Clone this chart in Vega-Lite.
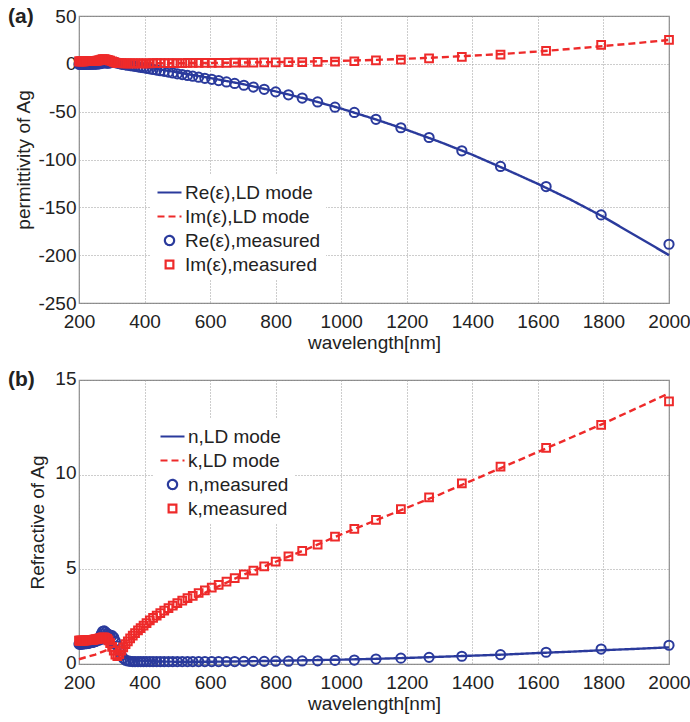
{
  "$schema": "https://vega.github.io/schema/vega-lite/v6.json",
  "padding": {"left": 7, "top": 5, "right": 0, "bottom": 2},
  "background": "white",
  "datasets": {
    "meas": [
      {"wl": 2000, "re": -188.6, "im": 25.0, "n": 0.99, "k": 13.87},
      {"wl": 1793, "re": -157.9, "im": 19.8, "n": 0.79, "k": 12.63},
      {"wl": 1625, "re": -128.3, "im": 13.6, "n": 0.62, "k": 11.41},
      {"wl": 1486, "re": -107.3, "im": 9.7, "n": 0.49, "k": 10.42},
      {"wl": 1368, "re": -90.9, "im": 7.2, "n": 0.41, "k": 9.54},
      {"wl": 1268, "re": -77.0, "im": 5.6, "n": 0.35, "k": 8.80},
      {"wl": 1182, "re": -66.8, "im": 4.3, "n": 0.31, "k": 8.18},
      {"wl": 1106, "re": -58.0, "im": 3.5, "n": 0.26, "k": 7.61},
      {"wl": 1040, "re": -50.8, "im": 2.7, "n": 0.21, "k": 7.14},
      {"wl": 981, "re": -45.3, "im": 2.3, "n": 0.19, "k": 6.73},
      {"wl": 928, "re": -39.8, "im": 2.0, "n": 0.17, "k": 6.31},
      {"wl": 881, "re": -35.8, "im": 1.8, "n": 0.16, "k": 5.98},
      {"wl": 839, "re": -32.4, "im": 1.7, "n": 0.15, "k": 5.69},
      {"wl": 800, "re": -29.3, "im": 1.6, "n": 0.15, "k": 5.41},
      {"wl": 765, "re": -26.6, "im": 1.45, "n": 0.14, "k": 5.16},
      {"wl": 732, "re": -24.3, "im": 1.35, "n": 0.14, "k": 4.93},
      {"wl": 703, "re": -22.4, "im": 1.3, "n": 0.14, "k": 4.73},
      {"wl": 675, "re": -20.5, "im": 1.2, "n": 0.13, "k": 4.53},
      {"wl": 650, "re": -18.9, "im": 1.1, "n": 0.13, "k": 4.35},
      {"wl": 626, "re": -17.5, "im": 1.05, "n": 0.13, "k": 4.18},
      {"wl": 605, "re": -16.2, "im": 1.0, "n": 0.13, "k": 4.03},
      {"wl": 584, "re": -15.1, "im": 0.98, "n": 0.13, "k": 3.89},
      {"wl": 565, "re": -14.0, "im": 0.95, "n": 0.13, "k": 3.75},
      {"wl": 547, "re": -12.9, "im": 0.92, "n": 0.13, "k": 3.60},
      {"wl": 531, "re": -12.1, "im": 0.88, "n": 0.13, "k": 3.48},
      {"wl": 515, "re": -11.2, "im": 0.85, "n": 0.13, "k": 3.35},
      {"wl": 500, "re": -10.4, "im": 0.82, "n": 0.13, "k": 3.22},
      {"wl": 486, "re": -9.5, "im": 0.79, "n": 0.13, "k": 3.08},
      {"wl": 473, "re": -8.7, "im": 0.76, "n": 0.13, "k": 2.95},
      {"wl": 460, "re": -7.9, "im": 0.72, "n": 0.13, "k": 2.82},
      {"wl": 448, "re": -7.2, "im": 0.69, "n": 0.13, "k": 2.69},
      {"wl": 437, "re": -6.5, "im": 0.66, "n": 0.13, "k": 2.56},
      {"wl": 426, "re": -5.9, "im": 0.63, "n": 0.13, "k": 2.43},
      {"wl": 416, "re": -5.3, "im": 0.6, "n": 0.13, "k": 2.30},
      {"wl": 406, "re": -4.65, "im": 0.56, "n": 0.13, "k": 2.16},
      {"wl": 397, "re": -4.1, "im": 0.53, "n": 0.13, "k": 2.03},
      {"wl": 388, "re": -3.6, "im": 0.49, "n": 0.13, "k": 1.90},
      {"wl": 380, "re": -3.1, "im": 0.46, "n": 0.13, "k": 1.77},
      {"wl": 371, "re": -2.6, "im": 0.42, "n": 0.13, "k": 1.63},
      {"wl": 364, "re": -2.2, "im": 0.39, "n": 0.13, "k": 1.50},
      {"wl": 356, "re": -1.8, "im": 0.38, "n": 0.14, "k": 1.35},
      {"wl": 349, "re": -1.4, "im": 0.38, "n": 0.16, "k": 1.20},
      {"wl": 342, "re": -1.06, "im": 0.42, "n": 0.20, "k": 1.05},
      {"wl": 335, "re": -0.7, "im": 0.53, "n": 0.30, "k": 0.88},
      {"wl": 329, "re": -0.29, "im": 0.63, "n": 0.45, "k": 0.70},
      {"wl": 323, "re": 0.22, "im": 0.73, "n": 0.70, "k": 0.52},
      {"wl": 317, "re": 0.73, "im": 0.80, "n": 0.95, "k": 0.42},
      {"wl": 311, "re": 1.19, "im": 1.20, "n": 1.20, "k": 0.50},
      {"wl": 306, "re": 1.47, "im": 1.96, "n": 1.40, "k": 0.70},
      {"wl": 301, "re": 1.44, "im": 2.70, "n": 1.50, "k": 0.90},
      {"wl": 295, "re": 1.10, "im": 3.34, "n": 1.52, "k": 1.10},
      {"wl": 290, "re": 0.84, "im": 3.88, "n": 1.55, "k": 1.25},
      {"wl": 286, "re": 0.79, "im": 4.26, "n": 1.60, "k": 1.33},
      {"wl": 281, "re": 0.92, "im": 4.64, "n": 1.68, "k": 1.38},
      {"wl": 277, "re": 1.10, "im": 4.90, "n": 1.75, "k": 1.40},
      {"wl": 272, "re": 1.00, "im": 4.82, "n": 1.72, "k": 1.40},
      {"wl": 268, "re": 0.59, "im": 4.36, "n": 1.58, "k": 1.38},
      {"wl": 264, "re": 0.17, "im": 3.86, "n": 1.42, "k": 1.36},
      {"wl": 260, "re": -0.05, "im": 3.54, "n": 1.32, "k": 1.34},
      {"wl": 256, "re": -0.15, "im": 3.33, "n": 1.26, "k": 1.32},
      {"wl": 252, "re": -0.23, "im": 3.20, "n": 1.22, "k": 1.31},
      {"wl": 249, "re": -0.27, "im": 3.09, "n": 1.19, "k": 1.30},
      {"wl": 245, "re": -0.29, "im": 3.02, "n": 1.17, "k": 1.29},
      {"wl": 242, "re": -0.32, "im": 2.94, "n": 1.15, "k": 1.28},
      {"wl": 239, "re": -0.34, "im": 2.92, "n": 1.14, "k": 1.28},
      {"wl": 235, "re": -0.34, "im": 2.87, "n": 1.13, "k": 1.27},
      {"wl": 232, "re": -0.36, "im": 2.84, "n": 1.12, "k": 1.27},
      {"wl": 229, "re": -0.36, "im": 2.80, "n": 1.11, "k": 1.26},
      {"wl": 226, "re": -0.38, "im": 2.77, "n": 1.10, "k": 1.26},
      {"wl": 223, "re": -0.37, "im": 2.73, "n": 1.09, "k": 1.25},
      {"wl": 220, "re": -0.37, "im": 2.73, "n": 1.09, "k": 1.25},
      {"wl": 218, "re": -0.40, "im": 2.70, "n": 1.08, "k": 1.25},
      {"wl": 215, "re": -0.37, "im": 2.68, "n": 1.08, "k": 1.24},
      {"wl": 212, "re": -0.39, "im": 2.65, "n": 1.07, "k": 1.24},
      {"wl": 210, "re": -0.39, "im": 2.65, "n": 1.07, "k": 1.24},
      {"wl": 207, "re": -0.41, "im": 2.63, "n": 1.06, "k": 1.24},
      {"wl": 205, "re": -0.39, "im": 2.61, "n": 1.06, "k": 1.23},
      {"wl": 202, "re": -0.39, "im": 2.58, "n": 1.05, "k": 1.23},
      {"wl": 200, "re": -0.41, "im": 2.58, "n": 1.05, "k": 1.23}
    ],
    "ld": [
      {"wl": 200, "lre": 0.6, "lim": 0.32, "ln": 0.80, "lk": 0.25},
      {"wl": 225, "lre": 0.63, "lim": 0.51, "ln": 0.85, "lk": 0.38},
      {"wl": 250, "lre": 0.70, "lim": 0.86, "ln": 0.95, "lk": 0.50},
      {"wl": 275, "lre": 0.83, "lim": 1.36, "ln": 1.10, "lk": 0.67},
      {"wl": 300, "lre": 0.18, "lim": 1.62, "ln": 0.95, "lk": 0.85},
      {"wl": 325, "lre": -0.80, "lim": 1.16, "ln": 0.55, "lk": 1.02},
      {"wl": 350, "lre": -1.60, "lim": 0.78, "ln": 0.30, "lk": 1.20},
      {"wl": 375, "lre": -2.36, "lim": 0.62, "ln": 0.20, "lk": 1.50},
      {"wl": 400, "lre": -3.40, "lim": 0.59, "ln": 0.16, "lk": 1.85},
      {"wl": 450, "lre": -6.0, "lim": 0.64, "ln": 0.13, "lk": 2.50},
      {"wl": 500, "lre": -9.0, "lim": 0.72, "ln": 0.12, "lk": 3.00},
      {"wl": 550, "lre": -11.9, "lim": 0.83, "ln": 0.12, "lk": 3.45},
      {"wl": 600, "lre": -14.8, "lim": 0.95, "ln": 0.12, "lk": 3.90},
      {"wl": 700, "lre": -21.2, "lim": 1.3, "ln": 0.14, "lk": 4.70},
      {"wl": 800, "lre": -28.8, "lim": 1.8, "ln": 0.17, "lk": 5.40},
      {"wl": 900, "lre": -37.2, "lim": 2.4, "ln": 0.20, "lk": 6.10},
      {"wl": 1000, "lre": -46.8, "lim": 3.1, "ln": 0.23, "lk": 6.85},
      {"wl": 1100, "lre": -57.5, "lim": 4.1, "ln": 0.27, "lk": 7.55},
      {"wl": 1200, "lre": -69.0, "lim": 5.3, "ln": 0.32, "lk": 8.25},
      {"wl": 1300, "lre": -81.5, "lim": 6.8, "ln": 0.38, "lk": 8.95},
      {"wl": 1400, "lre": -95.0, "lim": 8.5, "ln": 0.44, "lk": 9.70},
      {"wl": 1500, "lre": -110.0, "lim": 10.5, "ln": 0.50, "lk": 10.45},
      {"wl": 1600, "lre": -125.5, "lim": 12.9, "ln": 0.58, "lk": 11.20},
      {"wl": 1700, "lre": -142.0, "lim": 15.6, "ln": 0.65, "lk": 11.95},
      {"wl": 1800, "lre": -160.0, "lim": 18.6, "ln": 0.73, "lk": 12.70},
      {"wl": 1900, "lre": -180.0, "lim": 21.6, "ln": 0.80, "lk": 13.50},
      {"wl": 2000, "lre": -200.0, "lim": 25.0, "ln": 0.88, "lk": 14.30}
    ]
  },
  "vconcat": [
    {
      "width": 590,
      "height": 287,
      "layer": [
        {
          "data": {"name": "ld"},
          "mark": {"type": "line", "strokeWidth": 2.4},
          "encoding": {
            "x": {"field": "wl", "type": "quantitative", "scale": {"domain": [200, 2000], "nice": false},
                  "axis": {"values": [200, 400, 600, 800, 1000, 1200, 1400, 1600, 1800, 2000], "title": "wavelength[nm]", "labelExpr": "'' + datum.value"}},
            "y": {"field": "lre", "type": "quantitative", "scale": {"domain": [-250, 50], "nice": false, "zero": false},
                  "axis": {"values": [-250, -200, -150, -100, -50, 0, 50], "title": "permittivity of Ag", "labelExpr": "'' + datum.value", "titlePadding": 4}},
            "color": {"datum": "lre", "type": "nominal",
                      "scale": {"domain": ["lre", "lim", "re", "im"], "range": ["#2a3a9c", "#ee2a2a", "#2a3a9c", "#ee2a2a"]},
                      "legend": {
                        "title": null, "orient": "none", "legendX": 72, "legendY": 158,
                        "labelExpr": "datum.value == 'lre' ? 'Re(ε),LD mode' : datum.value == 'lim' ? 'Im(ε),LD mode' : datum.value == 're' ? 'Re(ε),measured' : 'Im(ε),measured'",
                        "labelFontSize": 19, "labelColor": "#222", "labelFont": "Liberation Sans",
                        "fillColor": "white", "padding": 5, "rowPadding": 0, "symbolSize": 576, "symbolStrokeWidth": 2, "labelOffset": 2,
                        "encode": {"symbols": {"update": {
                          "shape": {"signal": "datum.value == 're' ? 'circle' : datum.value == 'im' ? 'square' : 'stroke'"},
                          "size": {"signal": "datum.value == 're' ? 85 : datum.value == 'im' ? 60 : 576"},
                          "strokeDash": {"signal": "datum.value == 'lim' ? [7, 4] : [1, 0]"},
                          "fill": {"value": "transparent"},
                          "strokeWidth": {"value": 2.2}
                        }}}
                      }},
            "strokeDash": {"datum": "lre", "type": "nominal",
                           "scale": {"domain": ["lre", "lim", "re", "im"], "range": [[1, 0], [7, 4], [1, 0], [1, 0]]}, "legend": null}
          }
        },
        {
          "data": {"name": "ld"},
          "mark": {"type": "line", "strokeWidth": 2.4},
          "encoding": {
            "x": {"field": "wl", "type": "quantitative"},
            "y": {"field": "lim", "type": "quantitative"},
            "color": {"datum": "lim", "type": "nominal"},
            "strokeDash": {"datum": "lim", "type": "nominal"}
          }
        },
        {
          "data": {"name": "meas"},
          "mark": {"type": "point", "filled": false, "strokeWidth": 2, "size": 85, "opacity": 1},
          "encoding": {
            "x": {"field": "wl", "type": "quantitative"},
            "y": {"field": "re", "type": "quantitative"},
            "color": {"datum": "re", "type": "nominal"},
            "shape": {"datum": "re", "type": "nominal",
                      "scale": {"domain": ["lre", "lim", "re", "im"], "range": ["stroke", "stroke", "circle", "square"]}, "legend": null}
          }
        },
        {
          "data": {"name": "meas"},
          "mark": {"type": "point", "filled": false, "strokeWidth": 2, "size": 60, "opacity": 1},
          "encoding": {
            "x": {"field": "wl", "type": "quantitative"},
            "y": {"field": "im", "type": "quantitative"},
            "color": {"datum": "im", "type": "nominal"},
            "shape": {"datum": "im", "type": "nominal"}
          }
        },
        {
          "data": {"values": [{"label": "(a)"}]},
          "mark": {"type": "text", "fontWeight": "bold", "fontSize": 21, "align": "left", "baseline": "middle", "dx": -71, "dy": 1, "font": "Liberation Sans", "color": "#222"},
          "encoding": {
            "x": {"datum": 200, "type": "quantitative"},
            "y": {"datum": 50, "type": "quantitative"},
            "text": {"field": "label"}
          }
        }
      ]
    },
    {
      "width": 590,
      "height": 284,
      "layer": [
        {
          "data": {"name": "ld"},
          "mark": {"type": "line", "strokeWidth": 2.4},
          "encoding": {
            "x": {"field": "wl", "type": "quantitative", "scale": {"domain": [200, 2000], "nice": false},
                  "axis": {"values": [200, 400, 600, 800, 1000, 1200, 1400, 1600, 1800, 2000], "title": "wavelength[nm]", "labelExpr": "'' + datum.value"}},
            "y": {"field": "ln", "type": "quantitative", "scale": {"domain": [0, 15], "nice": false},
                  "axis": {"values": [0, 5, 10, 15], "title": "Refractive of Ag", "labelExpr": "'' + datum.value", "titlePadding": 7, "labelOffset": -2}},
            "color": {"datum": "ln", "type": "nominal",
                      "scale": {"domain": ["ln", "lk", "n", "k"], "range": ["#2a3a9c", "#ee2a2a", "#2a3a9c", "#ee2a2a"]},
                      "legend": {
                        "title": null, "orient": "none", "legendX": 75, "legendY": 38,
                        "labelExpr": "datum.value == 'ln' ? 'n,LD mode' : datum.value == 'lk' ? 'k,LD mode' : datum.value == 'n' ? 'n,measured' : 'k,measured'",
                        "labelFontSize": 19, "labelColor": "#222", "labelFont": "Liberation Sans",
                        "fillColor": "white", "padding": 5, "rowPadding": 0, "symbolSize": 576, "symbolStrokeWidth": 2, "labelOffset": 2,
                        "encode": {"symbols": {"update": {
                          "shape": {"signal": "datum.value == 'n' ? 'circle' : datum.value == 'k' ? 'square' : 'stroke'"},
                          "size": {"signal": "datum.value == 'n' ? 85 : datum.value == 'k' ? 60 : 576"},
                          "strokeDash": {"signal": "datum.value == 'lk' ? [7, 4] : [1, 0]"},
                          "fill": {"value": "transparent"},
                          "strokeWidth": {"value": 2.2}
                        }}}
                      }},
            "strokeDash": {"datum": "ln", "type": "nominal",
                           "scale": {"domain": ["ln", "lk", "n", "k"], "range": [[1, 0], [7, 4], [1, 0], [1, 0]]}, "legend": null}
          }
        },
        {
          "data": {"name": "ld"},
          "mark": {"type": "line", "strokeWidth": 2.4},
          "encoding": {
            "x": {"field": "wl", "type": "quantitative"},
            "y": {"field": "lk", "type": "quantitative"},
            "color": {"datum": "lk", "type": "nominal"},
            "strokeDash": {"datum": "lk", "type": "nominal"}
          }
        },
        {
          "data": {"name": "meas"},
          "mark": {"type": "point", "filled": false, "strokeWidth": 2, "size": 85, "opacity": 1},
          "encoding": {
            "x": {"field": "wl", "type": "quantitative"},
            "y": {"field": "n", "type": "quantitative"},
            "color": {"datum": "n", "type": "nominal"},
            "shape": {"datum": "n", "type": "nominal",
                      "scale": {"domain": ["ln", "lk", "n", "k"], "range": ["stroke", "stroke", "circle", "square"]}, "legend": null}
          }
        },
        {
          "data": {"name": "meas"},
          "mark": {"type": "point", "filled": false, "strokeWidth": 2, "size": 60, "opacity": 1},
          "encoding": {
            "x": {"field": "wl", "type": "quantitative"},
            "y": {"field": "k", "type": "quantitative"},
            "color": {"datum": "k", "type": "nominal"},
            "shape": {"datum": "k", "type": "nominal"}
          }
        },
        {
          "data": {"values": [{"label": "(b)"}]},
          "mark": {"type": "text", "fontWeight": "bold", "fontSize": 21, "align": "left", "baseline": "middle", "dx": -71, "dy": 0, "font": "Liberation Sans", "color": "#222"},
          "encoding": {
            "x": {"datum": 200, "type": "quantitative"},
            "y": {"datum": 15, "type": "quantitative"},
            "text": {"field": "label"}
          }
        }
      ]
    }
  ],
  "resolve": {
    "scale": {"color": "independent", "shape": "independent", "strokeDash": "independent", "x": "independent", "y": "independent"},
    "legend": {"color": "independent", "shape": "independent", "strokeDash": "independent"}
  },
  "spacing": 15,
  "config": {
    "font": "Liberation Sans",
    "view": {"stroke": "#8a8a8a", "strokeWidth": 1.2},
    "axis": {
      "domain": false, "ticks": false, "grid": true,
      "gridColor": "#9a9a9a", "gridDash": [1, 2], "gridWidth": 1,
      "labelFontSize": 19, "titleFontSize": 19, "titleFontWeight": "normal",
      "labelColor": "#222", "titleColor": "#222",
      "labelFont": "Liberation Sans", "titleFont": "Liberation Sans"
    },
    "axisX": {"labelPadding": 9, "titlePadding": 2, "labelFlush": false},
    "axisY": {"labelPadding": 3, "labelFlush": false}
  }
}
